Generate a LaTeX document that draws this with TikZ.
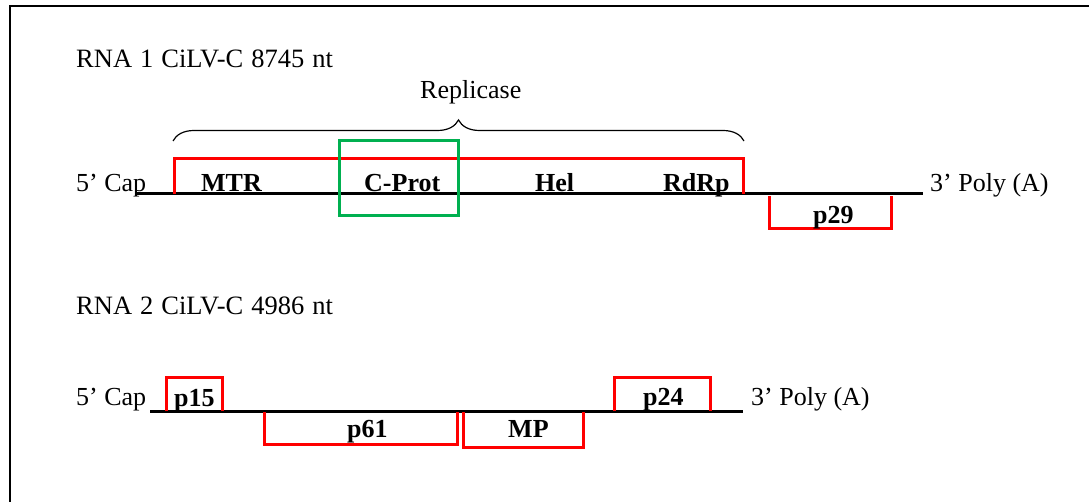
\documentclass[tikz,border=0pt]{standalone}
\usepackage{fontspec}
\setmainfont{Liberation Serif}
\usetikzlibrary{decorations.pathreplacing}
\definecolor{orfred}{HTML}{FF0000}
\definecolor{protgreen}{HTML}{00B050}
\newcommand{\wideword}{\spaceskip=8pt plus 1pt\relax}
\tikzset{
  lbl/.style={anchor=base west, inner sep=0pt, font=\fontsize{26}{31}\selectfont},
  rnalbl/.style={lbl, font=\fontsize{26.5}{31}\selectfont, execute at begin node=\wideword},
  orflbl/.style={lbl, font=\fontsize{26}{31}\selectfont\bfseries},
  rnaline/.style={draw=black, line width=3pt},
  orfbox/.style={draw=orfred, line width=3pt},
  protbox/.style={draw=protgreen, line width=3pt},
  framel/.style={draw=black, line width=2pt},
  bracel/.style={draw=black, line width=1.2pt, decorate, decoration={brace, amplitude=21pt}}
}
\begin{document}
\begin{tikzpicture}[x=1pt,y=-1pt]
\useasboundingbox (0,0) rectangle (1089,502);
% frame (open at right and bottom, cropped)
\coordinate (fTL) at (9.5,6);
\coordinate (fTR) at (1095,6);
\coordinate (fBL) at (9.5,510);
\draw[framel] (fTR) -- (fTL) -- (fBL);

% ---------- RNA 1 ----------
\node[rnalbl] (rna1) at (76,68) {RNA 1 CiLV-C 8745 nt};
\node[lbl] (rep) at (420,99) {Replicase};
\coordinate (brL) at (173,141);
\coordinate (brR) at (744,141);
\draw[bracel] (brL) -- (brR);

\coordinate (l1a) at (137,194);
\coordinate (l1b) at (923,194);
\draw[rnaline] (l1a) -- (l1b);
\node[lbl] (cap1) at (76,192) {5’ Cap};
\node[lbl] (poly1) at (930,192) {3’ Poly (A)};

% replicase ORF (open at bottom)
\coordinate (r1) at (174,194);
\coordinate (r2) at (174,159);
\coordinate (r3) at (743,159);
\coordinate (r4) at (743,194);
\draw[orfbox] (r1) -- (r2) -- (r3) -- (r4);

\node[orflbl] (mtr) at (201,192) {MTR};
\node[orflbl] (cprot) at (364,192) {C-Prot};
\node[orflbl] (hel) at (535,192) {Hel};
\node[orflbl] (rdrp) at (663,192) {RdRp};

% p29 ORF (open at top)
\coordinate (q1) at (769,196);
\coordinate (q2) at (769,229);
\coordinate (q3) at (891,229);
\coordinate (q4) at (891,196);
\draw[orfbox] (q1) -- (q2) -- (q3) -- (q4);
\node[orflbl] (p29) at (813,224) {p29};

% C-Prot domain box
\coordinate (g1) at (339,141);
\coordinate (g2) at (458,216);
\draw[protbox] (g1) rectangle (g2);

% ---------- RNA 2 ----------
\node[rnalbl] (rna2) at (76,315) {RNA 2 CiLV-C 4986 nt};
\coordinate (l2a) at (150,411);
\coordinate (l2b) at (743,411);
\draw[rnaline] (l2a) -- (l2b);
\node[lbl] (cap2) at (76,405) {5’ Cap};
\node[lbl] (poly2) at (751,405) {3’ Poly (A)};

% p15 (open bottom)
\coordinate (a1) at (166,411);
\coordinate (a2) at (166,377);
\coordinate (a3) at (222,377);
\coordinate (a4) at (222,411);
\draw[orfbox] (a1) -- (a2) -- (a3) -- (a4);
\node[orflbl] (p15) at (174,406) {p15};

% p61 (open top)
\coordinate (b1) at (264,412);
\coordinate (b2) at (264,444);
\coordinate (b3) at (457,444);
\coordinate (b4) at (457,412);
\draw[orfbox] (b1) -- (b2) -- (b3) -- (b4);
\node[orflbl] (p61) at (347,437) {p61};

% MP (open top)
\coordinate (c1) at (463,412);
\coordinate (c2) at (463,447);
\coordinate (c3) at (583,447);
\coordinate (c4) at (583,412);
\draw[orfbox] (c1) -- (c2) -- (c3) -- (c4);
\node[orflbl] (mp) at (508,437) {MP};

% p24 (open bottom)
\coordinate (d1) at (614,411);
\coordinate (d2) at (614,377);
\coordinate (d3) at (710,377);
\coordinate (d4) at (710,411);
\draw[orfbox] (d1) -- (d2) -- (d3) -- (d4);
\node[orflbl] (p24) at (643,405) {p24};
\end{tikzpicture}
\end{document}
